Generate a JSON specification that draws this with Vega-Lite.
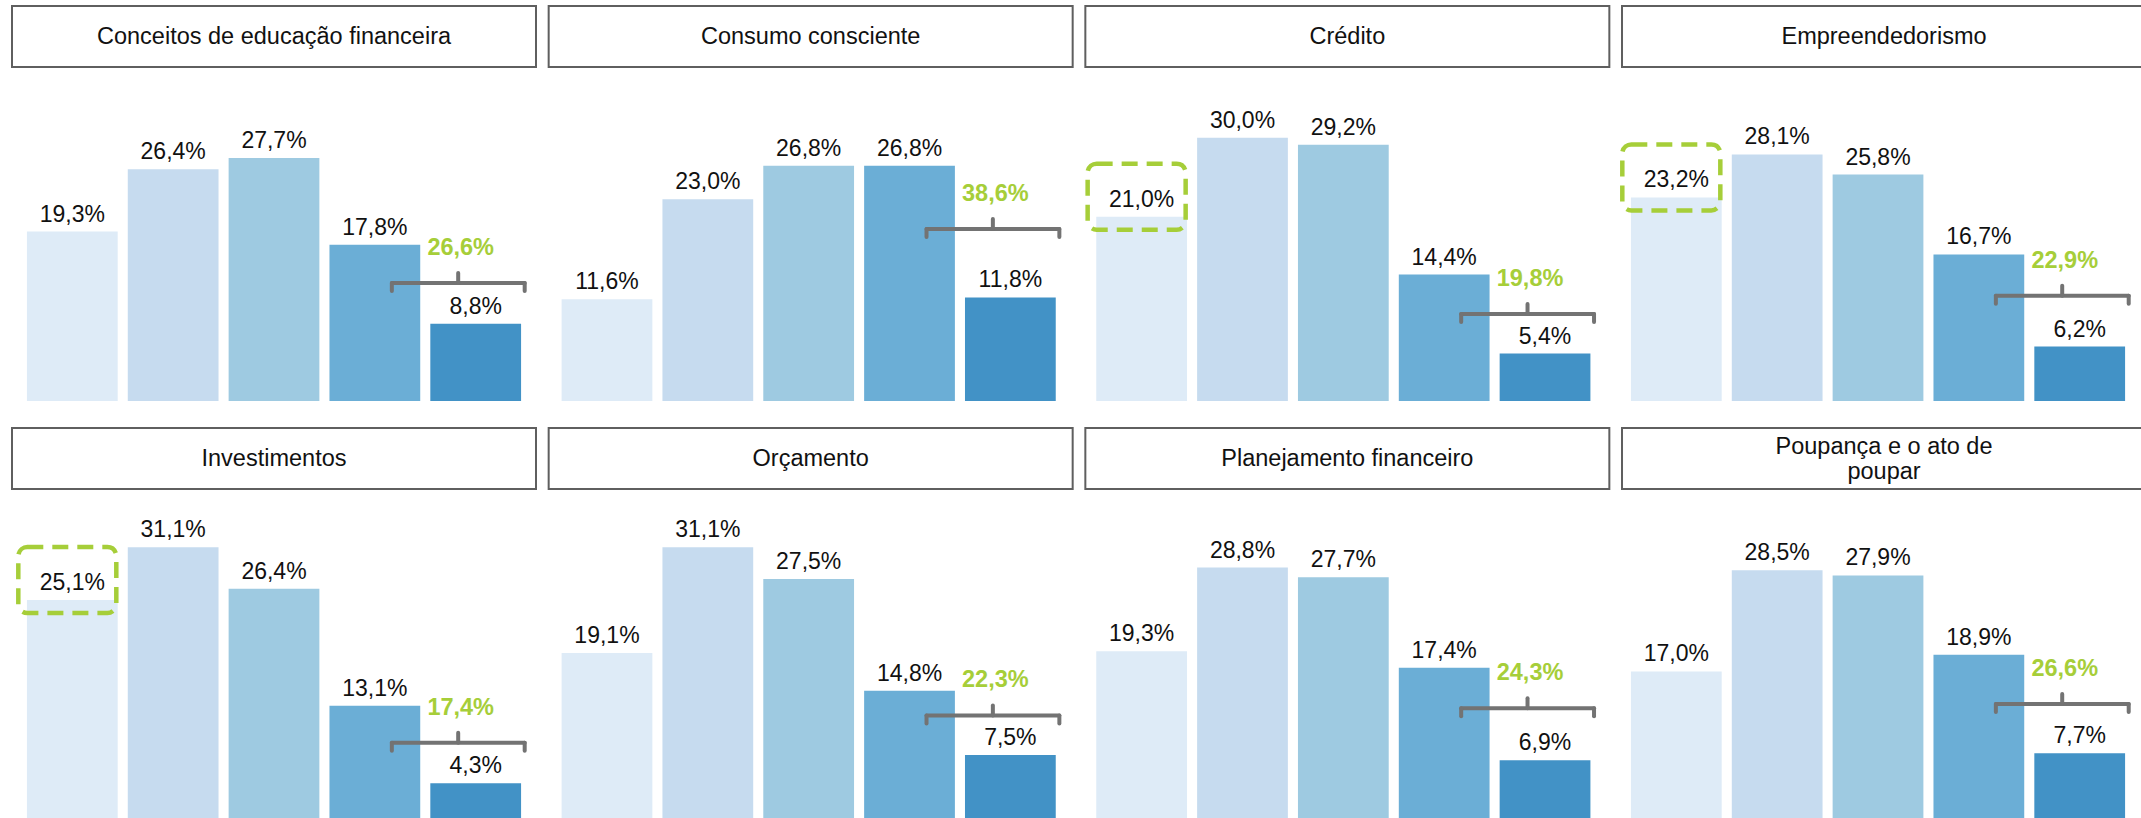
{
  "$schema": "https://vega.github.io/schema/vega-lite/v6.json",
  "padding": {"left": 11, "top": 5, "right": 0, "bottom": 0},
  "background": "white",
  "config": {"view": {"stroke": null}, "font": "Liberation Sans"},
  "datasets": {
    "barras": [
      {"topico": "Conceitos de educação financeira", "faixa": "1", "pct": 19.3},
      {"topico": "Conceitos de educação financeira", "faixa": "2", "pct": 26.4},
      {"topico": "Conceitos de educação financeira", "faixa": "3", "pct": 27.7},
      {"topico": "Conceitos de educação financeira", "faixa": "4", "pct": 17.8},
      {"topico": "Conceitos de educação financeira", "faixa": "5", "pct": 8.8},
      {"topico": "Consumo consciente", "faixa": "1", "pct": 11.6},
      {"topico": "Consumo consciente", "faixa": "2", "pct": 23.0},
      {"topico": "Consumo consciente", "faixa": "3", "pct": 26.8},
      {"topico": "Consumo consciente", "faixa": "4", "pct": 26.8},
      {"topico": "Consumo consciente", "faixa": "5", "pct": 11.8},
      {"topico": "Crédito", "faixa": "1", "pct": 21.0},
      {"topico": "Crédito", "faixa": "2", "pct": 30.0},
      {"topico": "Crédito", "faixa": "3", "pct": 29.2},
      {"topico": "Crédito", "faixa": "4", "pct": 14.4},
      {"topico": "Crédito", "faixa": "5", "pct": 5.4},
      {"topico": "Empreendedorismo", "faixa": "1", "pct": 23.2},
      {"topico": "Empreendedorismo", "faixa": "2", "pct": 28.1},
      {"topico": "Empreendedorismo", "faixa": "3", "pct": 25.8},
      {"topico": "Empreendedorismo", "faixa": "4", "pct": 16.7},
      {"topico": "Empreendedorismo", "faixa": "5", "pct": 6.2},
      {"topico": "Investimentos", "faixa": "1", "pct": 25.1},
      {"topico": "Investimentos", "faixa": "2", "pct": 31.1},
      {"topico": "Investimentos", "faixa": "3", "pct": 26.4},
      {"topico": "Investimentos", "faixa": "4", "pct": 13.1},
      {"topico": "Investimentos", "faixa": "5", "pct": 4.3},
      {"topico": "Orçamento", "faixa": "1", "pct": 19.1},
      {"topico": "Orçamento", "faixa": "2", "pct": 31.1},
      {"topico": "Orçamento", "faixa": "3", "pct": 27.5},
      {"topico": "Orçamento", "faixa": "4", "pct": 14.8},
      {"topico": "Orçamento", "faixa": "5", "pct": 7.5},
      {"topico": "Planejamento financeiro", "faixa": "1", "pct": 19.3},
      {"topico": "Planejamento financeiro", "faixa": "2", "pct": 28.8},
      {"topico": "Planejamento financeiro", "faixa": "3", "pct": 27.7},
      {"topico": "Planejamento financeiro", "faixa": "4", "pct": 17.4},
      {"topico": "Planejamento financeiro", "faixa": "5", "pct": 6.9},
      {"topico": "Poupança e o ato de poupar", "faixa": "1", "pct": 17.0},
      {"topico": "Poupança e o ato de poupar", "faixa": "2", "pct": 28.5},
      {"topico": "Poupança e o ato de poupar", "faixa": "3", "pct": 27.9},
      {"topico": "Poupança e o ato de poupar", "faixa": "4", "pct": 18.9},
      {"topico": "Poupança e o ato de poupar", "faixa": "5", "pct": 7.7}
    ],
    "resumo": [
      {"topico": "Conceitos de educação financeira", "titulo": "Conceitos de educação financeira", "soma": 26.6, "nivel_chave": 13.45, "destaque": false},
      {"topico": "Consumo consciente", "titulo": "Consumo consciente", "soma": 38.6, "nivel_chave": 19.6, "destaque": false},
      {"topico": "Crédito", "titulo": "Crédito", "soma": 19.8, "nivel_chave": 9.9, "destaque": true},
      {"topico": "Empreendedorismo", "titulo": "Empreendedorismo", "soma": 22.9, "nivel_chave": 12.0, "destaque": true},
      {"topico": "Investimentos", "titulo": "Investimentos", "soma": 17.4, "nivel_chave": 8.9, "destaque": true},
      {"topico": "Orçamento", "titulo": "Orçamento", "soma": 22.3, "nivel_chave": 12.0, "destaque": false},
      {"topico": "Planejamento financeiro", "titulo": "Planejamento financeiro", "soma": 24.3, "nivel_chave": 12.8, "destaque": false},
      {"topico": "Poupança e o ato de poupar", "titulo": "Poupança e o ato de\npoupar", "soma": 26.6, "nivel_chave": 13.3, "destaque": false}
    ]
  },
  "spacing": 26,
  "vconcat": [
    {
      "spacing": 3,
      "vconcat": [
        {
          "data": {"name": "resumo"},
          "transform": [{"filter": {"field": "topico", "oneOf": ["Conceitos de educação financeira", "Consumo consciente", "Crédito", "Empreendedorismo"]}}],
          "facet": {"column": {"field": "topico", "type": "nominal", "header": null, "sort": ["Conceitos de educação financeira", "Consumo consciente", "Crédito", "Empreendedorismo"]}},
          "spacing": 10.67,
          "spec": {
            "width": 524, "height": 61,
            "view": {"stroke": "#5f5f5f", "strokeWidth": 2},
            "layer": [
              {"transform": [{"filter": "indexof(datum.titulo, '\\n') < 0"}], "mark": {"type": "text", "font": "Liberation Sans", "fontSize": 23.5, "color": "#111111", "baseline": "middle", "align": "center"}, "encoding": {"text": {"field": "titulo"}}},
              {"transform": [{"filter": "indexof(datum.titulo, '\\n') >= 0"}], "mark": {"type": "text", "font": "Liberation Sans", "fontSize": 23.5, "color": "#111111", "lineBreak": "\n", "lineHeight": 25, "baseline": "middle", "align": "center", "dy": -12}, "encoding": {"text": {"field": "titulo"}}}
            ]
          }
        },
        {
          "data": {"name": "barras"},
          "transform": [
            {"filter": {"field": "topico", "oneOf": ["Conceitos de educação financeira", "Consumo consciente", "Crédito", "Empreendedorismo"]}},
            {"lookup": "topico", "from": {"data": {"name": "resumo"}, "key": "topico", "fields": ["soma", "nivel_chave", "destaque"]}},
            {"calculate": "replace(format(datum.pct, '.1f'), '.', ',') + '%'", "as": "rotulo"},
            {"calculate": "replace(format(datum.soma, '.1f'), '.', ',') + '%'", "as": "rotulo_soma"}
          ],
          "facet": {"column": {"field": "topico", "type": "nominal", "header": null, "sort": ["Conceitos de educação financeira", "Consumo consciente", "Crédito", "Empreendedorismo"]}},
          "spacing": 10.67,
          "spec": {
            "width": 524, "height": 330,
            "encoding": {
              "x": {"field": "faixa", "type": "nominal", "axis": null, "scale": {"domain": ["1", "2", "3", "4", "5"], "paddingInner": 0.1, "paddingOuter": 0.148}},
              "y": {"field": "pct", "type": "quantitative", "axis": null, "scale": {"domain": [0, 37.6], "nice": false, "zero": true}}
            },
            "layer": [
              {"mark": {"type": "bar"}, "encoding": {"color": {"field": "faixa", "type": "nominal", "legend": null, "scale": {"domain": ["1", "2", "3", "4", "5"], "range": ["#deebf7", "#c6dbef", "#9ecae1", "#6baed6", "#4292c6"]}}}},
              {"mark": {"type": "text", "dy": -17, "fontSize": 23, "font": "Liberation Sans", "color": "#111111", "baseline": "middle"}, "encoding": {"text": {"field": "rotulo"}}},
              {"transform": [{"filter": "datum.faixa == '1' && datum.destaque"}], "mark": {"type": "bar", "filled": false, "color": "#a6ce39", "strokeWidth": 4.5, "strokeDash": [16, 9], "cornerRadius": 9, "width": 98, "xOffset": -5, "yOffset": -53, "y2Offset": 13}, "encoding": {"y2": {"field": "pct"}}},
              {"transform": [{"filter": "datum.faixa == '5'"}], "mark": {"type": "rule", "color": "#737373", "strokeWidth": 4, "strokeCap": "round", "xOffset": 17, "x2Offset": 49}, "encoding": {"x": {"datum": "4"}, "x2": {"datum": "5"}, "y": {"field": "nivel_chave", "type": "quantitative"}}},
              {"transform": [{"filter": "datum.faixa == '5'"}], "mark": {"type": "rule", "color": "#737373", "strokeWidth": 4, "strokeCap": "round", "xOffset": 17, "y2Offset": 8}, "encoding": {"x": {"datum": "4"}, "y": {"field": "nivel_chave", "type": "quantitative"}, "y2": {"field": "nivel_chave"}}},
              {"transform": [{"filter": "datum.faixa == '5'"}], "mark": {"type": "rule", "color": "#737373", "strokeWidth": 4, "strokeCap": "round", "xOffset": 49, "y2Offset": 8}, "encoding": {"x": {"datum": "5"}, "y": {"field": "nivel_chave", "type": "quantitative"}, "y2": {"field": "nivel_chave"}}},
              {"transform": [{"filter": "datum.faixa == '5'"}], "mark": {"type": "rule", "color": "#737373", "strokeWidth": 4, "strokeCap": "round", "xOffset": -17.5, "yOffset": -10}, "encoding": {"x": {"datum": "5"}, "y": {"field": "nivel_chave", "type": "quantitative"}, "y2": {"field": "nivel_chave"}}},
              {"transform": [{"filter": "datum.faixa == '5'"}], "mark": {"type": "text", "fontWeight": "bold", "color": "#a6ce39", "fontSize": 23.5, "font": "Liberation Sans", "dx": -15, "dy": -35, "baseline": "middle"}, "encoding": {"x": {"datum": "5"}, "y": {"field": "nivel_chave", "type": "quantitative"}, "text": {"field": "rotulo_soma"}}}
            ]
          }
        }
      ]
    },
    {
      "spacing": 3,
      "vconcat": [
        {
          "data": {"name": "resumo"},
          "transform": [{"filter": {"field": "topico", "oneOf": ["Investimentos", "Orçamento", "Planejamento financeiro", "Poupança e o ato de poupar"]}}],
          "facet": {"column": {"field": "topico", "type": "nominal", "header": null, "sort": ["Investimentos", "Orçamento", "Planejamento financeiro", "Poupança e o ato de poupar"]}},
          "spacing": 10.67,
          "spec": {
            "width": 524, "height": 61,
            "view": {"stroke": "#5f5f5f", "strokeWidth": 2},
            "layer": [
              {"transform": [{"filter": "indexof(datum.titulo, '\\n') < 0"}], "mark": {"type": "text", "font": "Liberation Sans", "fontSize": 23.5, "color": "#111111", "baseline": "middle", "align": "center"}, "encoding": {"text": {"field": "titulo"}}},
              {"transform": [{"filter": "indexof(datum.titulo, '\\n') >= 0"}], "mark": {"type": "text", "font": "Liberation Sans", "fontSize": 23.5, "color": "#111111", "lineBreak": "\n", "lineHeight": 25, "baseline": "middle", "align": "center", "dy": -12}, "encoding": {"text": {"field": "titulo"}}}
            ]
          }
        },
        {
          "data": {"name": "barras"},
          "transform": [
            {"filter": {"field": "topico", "oneOf": ["Investimentos", "Orçamento", "Planejamento financeiro", "Poupança e o ato de poupar"]}},
            {"lookup": "topico", "from": {"data": {"name": "resumo"}, "key": "topico", "fields": ["soma", "nivel_chave", "destaque"]}},
            {"calculate": "replace(format(datum.pct, '.1f'), '.', ',') + '%'", "as": "rotulo"},
            {"calculate": "replace(format(datum.soma, '.1f'), '.', ',') + '%'", "as": "rotulo_soma"}
          ],
          "facet": {"column": {"field": "topico", "type": "nominal", "header": null, "sort": ["Investimentos", "Orçamento", "Planejamento financeiro", "Poupança e o ato de poupar"]}},
          "spacing": 10.67,
          "spec": {
            "width": 524, "height": 328,
            "encoding": {
              "x": {"field": "faixa", "type": "nominal", "axis": null, "scale": {"domain": ["1", "2", "3", "4", "5"], "paddingInner": 0.1, "paddingOuter": 0.148}},
              "y": {"field": "pct", "type": "quantitative", "axis": null, "scale": {"domain": [0, 37.27], "nice": false, "zero": true}}
            },
            "layer": [
              {"mark": {"type": "bar"}, "encoding": {"color": {"field": "faixa", "type": "nominal", "legend": null, "scale": {"domain": ["1", "2", "3", "4", "5"], "range": ["#deebf7", "#c6dbef", "#9ecae1", "#6baed6", "#4292c6"]}}}},
              {"mark": {"type": "text", "dy": -17, "fontSize": 23, "font": "Liberation Sans", "color": "#111111", "baseline": "middle"}, "encoding": {"text": {"field": "rotulo"}}},
              {"transform": [{"filter": "datum.faixa == '1' && datum.destaque"}], "mark": {"type": "bar", "filled": false, "color": "#a6ce39", "strokeWidth": 4.5, "strokeDash": [16, 9], "cornerRadius": 9, "width": 98, "xOffset": -5, "yOffset": -53, "y2Offset": 13}, "encoding": {"y2": {"field": "pct"}}},
              {"transform": [{"filter": "datum.faixa == '5'"}], "mark": {"type": "rule", "color": "#737373", "strokeWidth": 4, "strokeCap": "round", "xOffset": 17, "x2Offset": 49}, "encoding": {"x": {"datum": "4"}, "x2": {"datum": "5"}, "y": {"field": "nivel_chave", "type": "quantitative"}}},
              {"transform": [{"filter": "datum.faixa == '5'"}], "mark": {"type": "rule", "color": "#737373", "strokeWidth": 4, "strokeCap": "round", "xOffset": 17, "y2Offset": 8}, "encoding": {"x": {"datum": "4"}, "y": {"field": "nivel_chave", "type": "quantitative"}, "y2": {"field": "nivel_chave"}}},
              {"transform": [{"filter": "datum.faixa == '5'"}], "mark": {"type": "rule", "color": "#737373", "strokeWidth": 4, "strokeCap": "round", "xOffset": 49, "y2Offset": 8}, "encoding": {"x": {"datum": "5"}, "y": {"field": "nivel_chave", "type": "quantitative"}, "y2": {"field": "nivel_chave"}}},
              {"transform": [{"filter": "datum.faixa == '5'"}], "mark": {"type": "rule", "color": "#737373", "strokeWidth": 4, "strokeCap": "round", "xOffset": -17.5, "yOffset": -10}, "encoding": {"x": {"datum": "5"}, "y": {"field": "nivel_chave", "type": "quantitative"}, "y2": {"field": "nivel_chave"}}},
              {"transform": [{"filter": "datum.faixa == '5'"}], "mark": {"type": "text", "fontWeight": "bold", "color": "#a6ce39", "fontSize": 23.5, "font": "Liberation Sans", "dx": -15, "dy": -35, "baseline": "middle"}, "encoding": {"x": {"datum": "5"}, "y": {"field": "nivel_chave", "type": "quantitative"}, "text": {"field": "rotulo_soma"}}}
            ]
          }
        }
      ]
    }
  ]
}
